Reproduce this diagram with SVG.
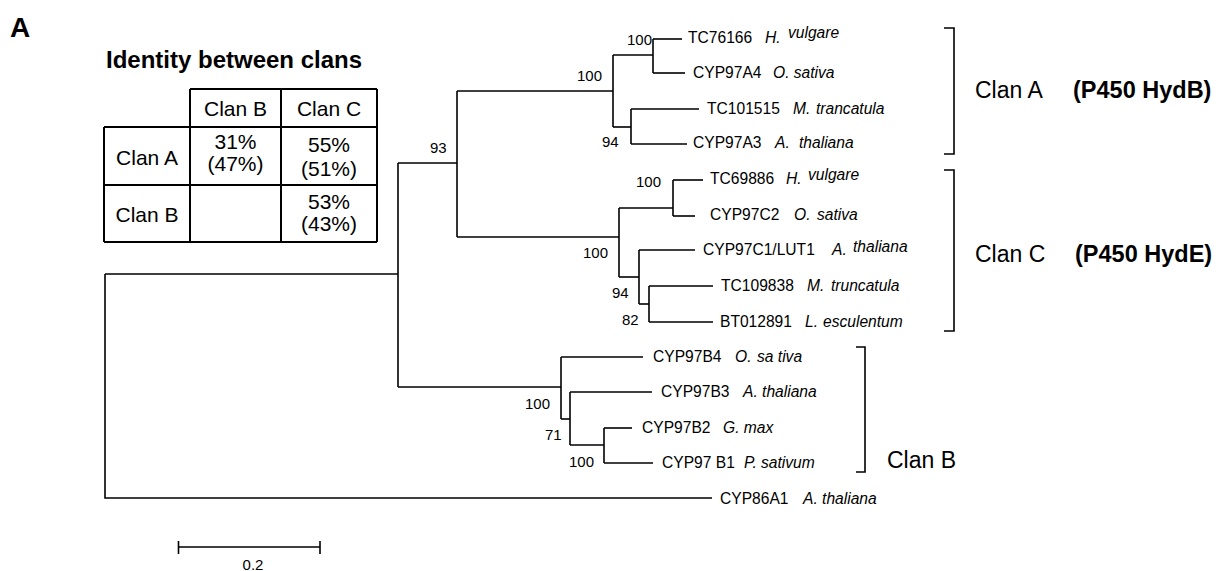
<svg xmlns="http://www.w3.org/2000/svg" width="1218" height="571" viewBox="0 0 1218 571">
<style>
text{font-family:"Liberation Sans",Arial,sans-serif;fill:#000}
.lbl{font-size:15.6px}
.sp{font-size:15.6px;font-style:italic}
.bs{font-size:15px}
.tb{font-size:21px;text-anchor:middle}
.clan{font-size:23px}
.clanb{font-size:23.5px;font-weight:bold}
.br{stroke:#000;stroke-width:1.6;fill:none}
.tree path{stroke:#000;stroke-width:1.6;fill:none}
.grid{stroke:#000;stroke-width:2;fill:none}
</style>
<rect width="1218" height="571" fill="#fff"/>
<text x="10" y="37" style="font-size:28px;font-weight:bold">A</text>

<g id="identity-table">
<text x="106" y="68" style="font-size:24px;font-weight:bold">Identity between clans</text>
<path class="grid" d="M190 89H377M104 127H377M104 185H377M104 242H377M104 127V242M190 89V242M281 89V242M377 89V242"/>
<text class="tb" x="235.5" y="116">Clan B</text>
<text class="tb" x="329" y="116">Clan C</text>
<text class="tb" x="147" y="165">Clan A</text>
<text class="tb" x="147" y="222">Clan B</text>
<text class="tb" x="235.5" y="149">31%</text>
<text class="tb" x="235.5" y="171">(47%)</text>
<text class="tb" x="329" y="152">55%</text>
<text class="tb" x="329" y="176">(51%)</text>
<text class="tb" x="329" y="209">53%</text>
<text class="tb" x="329" y="231">(43%)</text>
</g>

<g id="connectors" class="tree">
<path d="M105 274V498H712"/>
<path d="M105 274H398"/>
<path d="M398 163V387"/>
<path d="M398 163H457"/>
<path d="M398 387H561"/>
<path d="M457 91V237"/>
<path d="M457 91H613"/>
<path d="M457 237H619"/>
<path d="M613 55V127"/>
<path d="M613 55H653"/>
<path d="M653 39V73"/>
<path d="M653 39H682"/>
<path d="M653 73H685"/>
<path d="M613 127H631"/>
<path d="M631 109V144"/>
<path d="M631 109H699"/>
<path d="M631 144H687"/>
<path d="M619 208V277"/>
<path d="M619 208H673"/>
<path d="M673 180V216"/>
<path d="M673 180H703"/>
<path d="M673 216H695"/>
<path d="M619 277H639"/>
<path d="M639 250V304"/>
<path d="M639 250H695"/>
<path d="M639 304H649"/>
<path d="M649 286V322"/>
<path d="M649 286H713"/>
<path d="M649 322H713"/>
<path d="M561 357V419"/>
<path d="M561 357H643"/>
<path d="M561 419H570"/>
<path d="M570 392V445"/>
<path d="M570 392H652"/>
<path d="M570 445H604"/>
<path d="M604 428V463"/>
<path d="M604 428H632"/>
<path d="M604 463H653"/>
</g>

<g id="bootstrap">
<text class="bs" x="627" y="45">100</text>
<text class="bs" x="577" y="81">100</text>
<text class="bs" x="602" y="147">94</text>
<text class="bs" x="430" y="153">93</text>
<text class="bs" x="636" y="187">100</text>
<text class="bs" x="583" y="258">100</text>
<text class="bs" x="612" y="298">94</text>
<text class="bs" x="622" y="325">82</text>
<text class="bs" x="525" y="409">100</text>
<text class="bs" x="545" y="440">71</text>
<text class="bs" x="569" y="467">100</text>
</g>

<g id="leaf-TC76166"><text class="lbl" x="688" y="43">TC76166</text><text class="sp" x="765" y="43">H.</text><text class="sp" x="788" y="38">vulgare</text></g>
<g id="leaf-CYP97A4"><text class="lbl" x="693" y="78">CYP97A4</text><text class="sp" x="773" y="78">O. sativa</text></g>
<g id="leaf-TC101515"><text class="lbl" x="707" y="114">TC101515</text><text class="sp" x="793" y="114">M.</text><text class="sp" x="816" y="114">trancatula</text></g>
<g id="leaf-CYP97A3"><text class="lbl" x="693" y="148">CYP97A3</text><text class="sp" x="775" y="148">A.</text><text class="sp" x="799" y="148">thaliana</text></g>
<g id="leaf-TC69886"><text class="lbl" x="710" y="184">TC69886</text><text class="sp" x="786" y="184">H.</text><text class="sp" x="808" y="180">vulgare</text></g>
<g id="leaf-CYP97C2"><text class="lbl" x="710" y="220">CYP97C2</text><text class="sp" x="794" y="220">O.</text><text class="sp" x="817" y="220">sativa</text></g>
<g id="leaf-CYP97C1"><text class="lbl" x="703" y="255">CYP97C1/LUT1</text><text class="sp" x="832" y="255">A.</text><text class="sp" x="853" y="252">thaliana</text></g>
<g id="leaf-TC109838"><text class="lbl" x="721" y="291">TC109838</text><text class="sp" x="807" y="291">M.</text><text class="sp" x="831" y="291">truncatula</text></g>
<g id="leaf-BT012891"><text class="lbl" x="720" y="327">BT012891</text><text class="sp" x="805" y="327">L.</text><text class="sp" x="823" y="327">esculentum</text></g>
<g id="leaf-CYP97B4"><text class="lbl" x="653" y="362">CYP97B4</text><text class="sp" x="735" y="362">O.</text><text class="sp" x="757" y="362">sa tiva</text></g>
<g id="leaf-CYP97B3"><text class="lbl" x="661" y="397">CYP97B3</text><text class="sp" x="743" y="397">A. thaliana</text></g>
<g id="leaf-CYP97B2"><text class="lbl" x="642" y="433">CYP97B2</text><text class="sp" x="723" y="433">G. max</text></g>
<g id="leaf-CYP97B1"><text class="lbl" x="662" y="468">CYP97 B1</text><text class="sp" x="744" y="468">P. sativum</text></g>
<g id="leaf-CYP86A1"><text class="lbl" x="720" y="504">CYP86A1</text><text class="sp" x="803" y="504">A. thaliana</text></g>

<g id="clan-A">
<path class="br" d="M944 28H954V154H944"/>
<text class="clan" x="975" y="98">Clan A</text>
<text class="clanb" x="1073" y="98">(P450 HydB)</text>
</g>
<g id="clan-C">
<path class="br" d="M944 170H954V331H944"/>
<text class="clan" x="975" y="262">Clan C</text>
<text class="clanb" x="1075" y="262">(P450 HydE)</text>
</g>
<g id="clan-B">
<path class="br" d="M856 347H865V472H856"/>
<text class="clan" x="887" y="468">Clan B</text>
</g>

<g id="scale-bar">
<path class="br" d="M178.5 547H320M178.5 541V554M320 541V554"/>
<text class="bs" x="253" y="570" text-anchor="middle">0.2</text>
</g>
</svg>
